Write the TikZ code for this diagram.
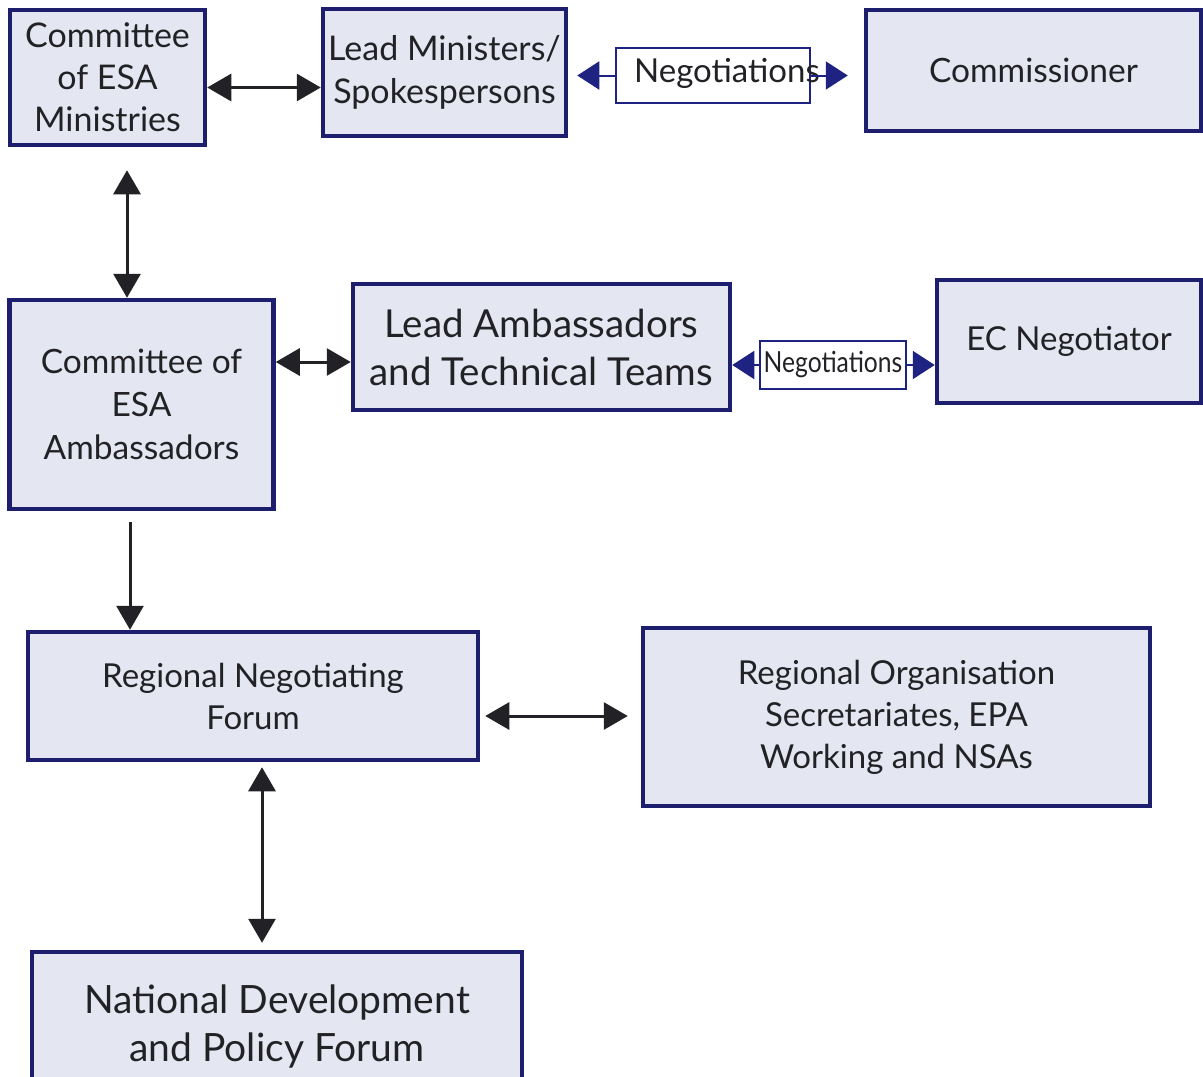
\documentclass[tikz,border=0pt]{standalone}
\usepackage{fontspec}
\setmainfont{Lato}
\usetikzlibrary{arrows.meta,calc}
\definecolor{boxfill}{RGB}{228,231,242}
\definecolor{boxline}{RGB}{30,30,110}
\definecolor{negline}{RGB}{30,35,130}
\definecolor{inkcol}{RGB}{34,34,38}
\begin{document}
\begin{tikzpicture}[x=1pt,y=-1pt,
  orgbox/.style={draw=boxline, line width=4.5pt, fill=boxfill, inner sep=0pt,
    align=center, text=inkcol, font=\fontsize{33}{42}\selectfont},
  negbox/.style={draw=negline, line width=2pt, fill=white, inner sep=0pt,
    align=center, text=inkcol},
  biarrow/.style={draw=inkcol, line width=3pt,
    {Triangle[width=27pt,length=24pt]}-{Triangle[width=27pt,length=24pt]}},
  onearrow/.style={draw=inkcol, line width=3pt, -{Triangle[width=27pt,length=24pt]}},
  negarrow/.style={draw=negline, line width=2pt, -{Triangle[width=28pt,length=22pt]}}
]
\useasboundingbox (0,0) rectangle (1203,1077);
\clip (0,0) rectangle (1203,1077);
\fill[white] (0,0) rectangle (1203,1077);

% ---- top level: ministers and commissioner
\node[orgbox, minimum width=195, minimum height=135,
  font=\fontsize{34}{42}\selectfont] (min) at (107.5,77.5)
  {Committee\\of ESA\\Ministries};
\node[orgbox, minimum width=243, minimum height=127,
  font=\fontsize{34}{43}\selectfont] (lm) at (444.5,72.5)
  {Lead Ministers/\\Spokespersons};
\node[negbox, minimum width=194, minimum height=55] (neg1) at (713,75.5) {};
\node[text=inkcol, font=\fontsize{33}{38}\selectfont] (neg1txt) at (727,73) {Negotiations};
\node[orgbox, minimum width=335, minimum height=121,
  font=\fontsize{33.5}{40}\selectfont] (com) at (1033.5,70.5)
  {Commissioner};

% ---- ambassadors level
\node[orgbox, minimum width=264, minimum height=209,
  font=\fontsize{33.5}{43}\selectfont] (amb) at (141.5,404.5)
  {Committee of\\ESA\\Ambassadors};
\node[orgbox, minimum width=377, minimum height=126,
  font=\fontsize{38.5}{48}\selectfont] (lat) at (541.5,347)
  {Lead Ambassadors\\and Technical Teams};
\node[negbox, minimum width=146, minimum height=48] (neg2) at (833,365)
  {\scalebox{0.85}[1]{\fontsize{29}{32}\selectfont Negotiations}};
\node[orgbox, minimum width=264, minimum height=123] (ec) at (1069,341.5)
  {EC Negotiator};

% ---- regional and national level
\node[orgbox, minimum width=450, minimum height=128] (rnf) at (253,696)
  {Regional Negotiating\\Forum};
\node[orgbox, minimum width=507, minimum height=178] (ros) at (896.5,717)
  {Regional Organisation\\Secretariates, EPA\\Working and NSAs};
\node[orgbox, minimum width=490, minimum height=148,
  font=\fontsize{39}{48}\selectfont] (ndp) at (277,1026)
  {National Development\\and Policy Forum};

% ---- connectors
\draw[biarrow] ([yshift=-10pt]min.east) coordinate (a1) -- (a1 -| lm.west);

\coordinate (n1l) at ($(lm.east)+(9,0)$);
\coordinate (n1r) at ($(com.west)+(-16,0)$);
\draw[negarrow] (neg1.west) -- (n1l |- neg1.west);
\draw[negarrow] (neg1.east) -- (n1r |- neg1.east);

\coordinate (v1) at ($(min.south)+(19.5,23)$);
\draw[biarrow] (v1) -- (v1 |- amb.north);
\draw[biarrow] ([yshift=42.5pt]amb.east) coordinate (a2) -- (a2 -| lat.west);
\draw[negarrow] (neg2.west) -- (neg2.west -| lat.east);
\draw[negarrow] (neg2.east) -- (neg2.east -| ec.west);

\coordinate (v2) at ($(amb.south)+(-11.5,11)$);
\draw[onearrow] (v2) -- (v2 |- rnf.north);

\coordinate (h3) at ($(rnf.east)+(5,20)$);
\coordinate (h3e) at ($(ros.west)+(-13,0)$);
\draw[biarrow] (h3) -- (h3e |- h3);

\coordinate (v3a) at ($(rnf.south)+(9,5)$);
\coordinate (v3b) at ($(ndp.north)+(0,-7)$);
\draw[biarrow] (v3a) -- (v3a |- v3b);
\end{tikzpicture}
\end{document}
